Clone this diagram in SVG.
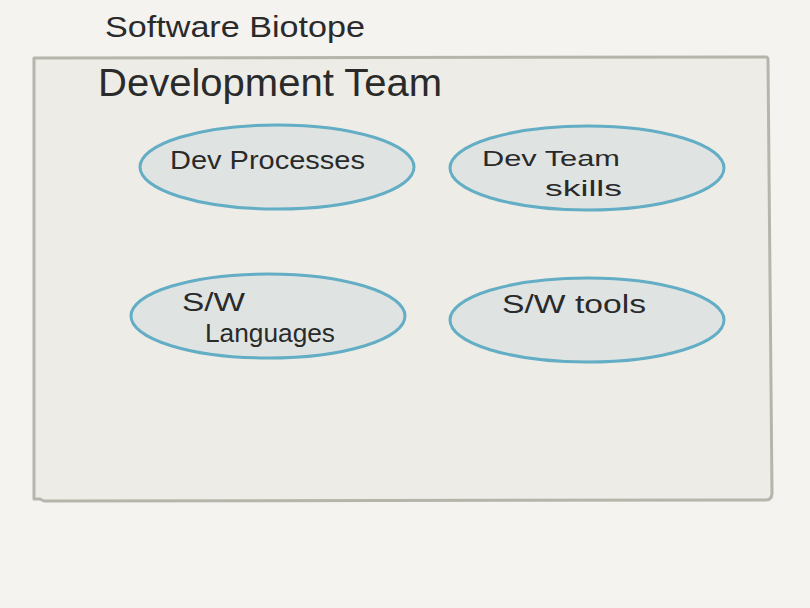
<svg xmlns="http://www.w3.org/2000/svg" width="810" height="608" viewBox="0 0 810 608">
  <style>
    .bubble { fill: #dfe4e3; stroke: #63adc5; stroke-width: 3; }
    .hand { font-family: "Liberation Sans", "DejaVu Sans", sans-serif; fill: #2a2a2a; }
    .lbl { font-size: 26px; }
    .sm { font-size: 22px; }
  </style>
  <rect x="0" y="0" width="810" height="608" fill="#f4f3ef"/>
  <text class="hand" x="105" y="37" font-size="30" textLength="260" lengthAdjust="spacingAndGlyphs">Software Biotope</text>
  <g id="development-team">
    <path d="M34,58 L766,57 Q768,57 768,60 L772,493 Q772,500 766,500 L44,501 L40,499 L34,499 Z" fill="#edece7" stroke="#b6b4ab" stroke-width="3" stroke-linejoin="round"/>
    <text class="hand" x="98" y="96" font-size="38" textLength="344" lengthAdjust="spacingAndGlyphs">Development Team</text>
  </g>
  <g id="connectors"></g>
  <g id="dev-processes">
    <ellipse class="bubble" cx="277" cy="167" rx="137" ry="42"/>
    <text class="hand lbl" x="170" y="169" textLength="195" lengthAdjust="spacingAndGlyphs">Dev Processes</text>
  </g>
  <g id="dev-team-skills">
    <ellipse class="bubble" cx="587" cy="168" rx="137" ry="42"/>
    <text class="hand sm" x="482" y="166" textLength="138" lengthAdjust="spacingAndGlyphs">Dev Team</text>
    <text class="hand sm" x="545" y="196" textLength="77" lengthAdjust="spacingAndGlyphs">skills</text>
  </g>
  <g id="sw-languages">
    <ellipse class="bubble" cx="268" cy="316" rx="137" ry="42"/>
    <text class="hand lbl" x="182" y="311" textLength="63" lengthAdjust="spacingAndGlyphs">S/W</text>
    <text class="hand lbl" x="205" y="342" textLength="130" lengthAdjust="spacingAndGlyphs">Languages</text>
  </g>
  <g id="sw-tools">
    <ellipse class="bubble" cx="587" cy="320" rx="137" ry="42"/>
    <text class="hand lbl" x="502" y="313" textLength="144" lengthAdjust="spacingAndGlyphs">S/W tools</text>
  </g>
</svg>
